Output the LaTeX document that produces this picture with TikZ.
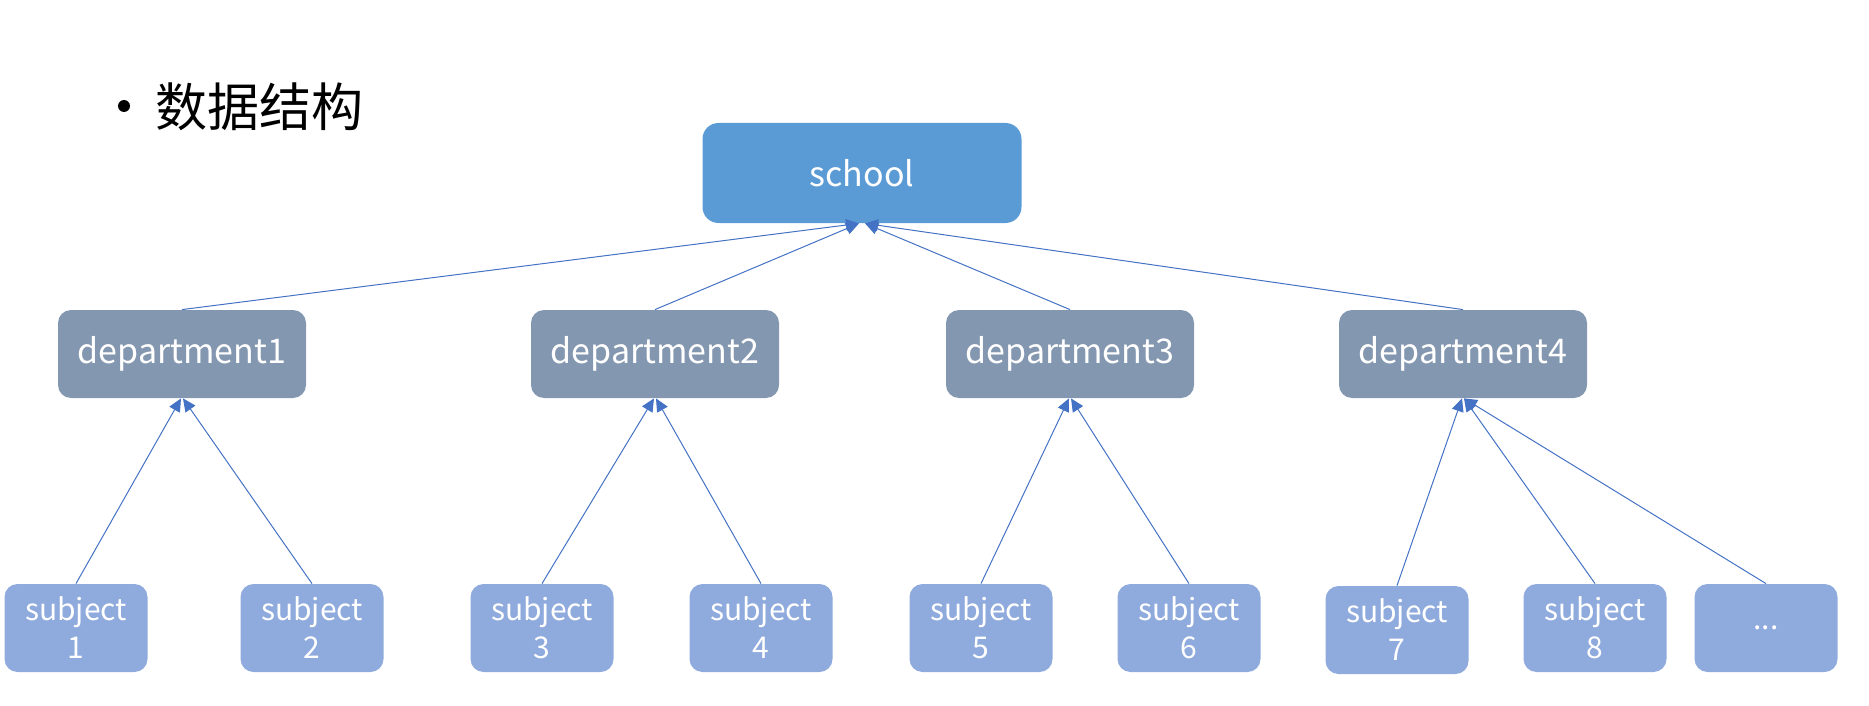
\documentclass[tikz,border=0pt]{standalone}
\usepackage{fontspec}
\usepackage{tikz}
\usetikzlibrary{arrows.meta}
\setmainfont{Noto Sans CJK SC}
\definecolor{schoolblue}{HTML}{5B9BD5}
\definecolor{deptgray}{HTML}{8497B0}
\definecolor{subjblue}{HTML}{8FAADC}
\definecolor{linkblue}{HTML}{4472C4}

\begin{document}
\begin{tikzpicture}[x=0.5pt,y=-0.5pt,>={Triangle[length=6.5pt,width=6pt]}]
 \tikzstyle{box} = [rounded corners=6.5pt,text=white,inner sep=0pt,align=center]
 \tikzstyle{schoolnode} = [box,rounded corners=8pt,fill=schoolblue,minimum width=159.5pt,minimum height=50pt,font=\fontsize{17}{20}\selectfont]
 \tikzstyle{deptnode} = [box,fill=deptgray,minimum width=124pt,minimum height=44pt,font=\fontsize{17}{20}\selectfont]
 \tikzstyle{subjnode} = [box,fill=subjblue,minimum width=71.5pt,minimum height=44pt,font=\fontsize{15}{19}\selectfont]
 \tikzstyle{link} = [linkblue,line width=0.5pt,->]

  \useasboundingbox (0,0) rectangle (1869,706);

  % Title
  \fill (124,106) circle (3pt);
  \node[anchor=west,inner sep=0pt,font=\fontsize{26}{30}\selectfont] (title) at (155,107) {数据结构};

  % Nodes
  \node[schoolnode] (school) at (862,173) {school};

  \node[deptnode] (d1) at (182,354) {department1};
  \node[deptnode] (d2) at (655,354) {department2};
  \node[deptnode] (d3) at (1070,354) {department3};
  \node[deptnode] (d4) at (1463,354) {department4};

  \node[subjnode] (s1) at (76,628) {subject\\1};
  \node[subjnode] (s2) at (312,628) {subject\\2};
  \node[subjnode] (s3) at (542,628) {subject\\3};
  \node[subjnode] (s4) at (761,628) {subject\\4};
  \node[subjnode] (s5) at (981,628) {subject\\5};
  \node[subjnode] (s6) at (1189,628) {subject\\6};
  \node[subjnode] (s7) at (1397,630) {subject\\7};
  \node[subjnode] (s8) at (1595,628) {subject\\8};
  \node[subjnode] (s9) at (1766,628) {...};

  % Links
  \foreach \d in {d1,d2} \draw[link] (\d.north) -- ([xshift=-1.5pt]school.south);
  \foreach \d in {d3,d4} \draw[link] (\d.north) -- ([xshift=1.5pt]school.south);

  \foreach \s/\d in {s1/d1,s3/d2,s5/d3,s7/d4}
    \draw[link] (\s.north) -- ([xshift=-0.5pt]\d.south);
  \foreach \s/\d in {s2/d1,s4/d2,s6/d3,s8/d4,s9/d4}
    \draw[link] (\s.north) -- ([xshift=0.5pt]\d.south);

\end{tikzpicture}
\end{document}
